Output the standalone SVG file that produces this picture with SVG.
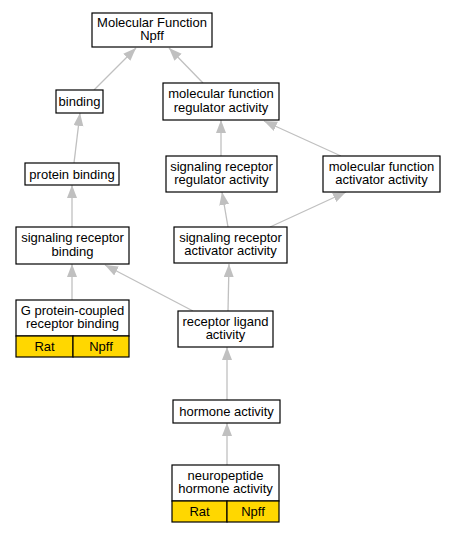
<svg xmlns="http://www.w3.org/2000/svg" width="455" height="533" viewBox="0 0 455 533">
<style>
.n{fill:#fff;stroke:#000;stroke-width:1.2}
.g{fill:#ffd700;stroke:#000;stroke-width:1.2}
text{font-family:"Liberation Sans",Arial,sans-serif;font-size:13px;text-anchor:middle;fill:#000}
.e line{stroke:#c0c0c0;stroke-width:1.3;marker-end:url(#a)}
</style>
<defs>
<marker id="a" markerUnits="userSpaceOnUse" markerWidth="14" markerHeight="11" refX="13" refY="5" orient="auto">
<path d="M0,0 L13,5 L0,10 z" fill="#c0c0c0"/>
</marker>
</defs>
<rect width="455" height="533" fill="#fff"/>
<g class="e" id="connectors">
<line x1="94" y1="90" x2="136" y2="48"/>
<line x1="203" y1="83" x2="169" y2="48"/>
<line x1="74" y1="163" x2="80" y2="113"/>
<line x1="221" y1="156" x2="221" y2="120"/>
<line x1="341" y1="156" x2="264" y2="121"/>
<line x1="72" y1="227" x2="72" y2="185"/>
<line x1="228" y1="227" x2="222" y2="192"/>
<line x1="270" y1="227" x2="346" y2="192"/>
<line x1="72" y1="300" x2="72" y2="264"/>
<line x1="193" y1="311" x2="105" y2="265"/>
<line x1="228" y1="311" x2="229" y2="264"/>
<line x1="227" y1="400" x2="227" y2="347"/>
<line x1="227" y1="465" x2="227" y2="423"/>
</g>
<g id="mf">
<rect class="n" x="92" y="13" width="120" height="34"/>
<text x="152" y="26.5">Molecular Function</text>
<text x="152" y="40">Npff</text>
</g>
<g id="binding">
<rect class="n" x="56" y="90" width="47" height="23"/>
<text x="79.5" y="106">binding</text>
</g>
<g id="mfra">
<rect class="n" x="163" y="83" width="116" height="37"/>
<text x="221" y="98">molecular function</text>
<text x="221" y="111.5">regulator activity</text>
</g>
<g id="pb">
<rect class="n" x="25" y="163" width="94" height="22"/>
<text x="72" y="178.5">protein binding</text>
</g>
<g id="srra">
<rect class="n" x="166" y="156" width="111" height="36"/>
<text x="221.5" y="170.5">signaling receptor</text>
<text x="221.5" y="184">regulator activity</text>
</g>
<g id="mfaa">
<rect class="n" x="323" y="156" width="117" height="36"/>
<text x="381.5" y="170.5">molecular function</text>
<text x="381.5" y="184">activator activity</text>
</g>
<g id="srb">
<rect class="n" x="16" y="227" width="113" height="37"/>
<text x="72.5" y="242">signaling receptor</text>
<text x="72.5" y="255.5">binding</text>
</g>
<g id="sraa">
<rect class="n" x="174" y="227" width="113" height="36"/>
<text x="230.5" y="241.5">signaling receptor</text>
<text x="230.5" y="255">activator activity</text>
</g>
<g id="gpcr">
<rect class="n" x="16" y="300" width="113" height="36"/>
<text x="72.5" y="314.5">G protein-coupled</text>
<text x="72.5" y="328">receptor binding</text>
<rect class="g" x="16" y="336" width="57" height="21"/>
<rect class="g" x="73" y="336" width="56" height="21"/>
<text x="44.5" y="351">Rat</text>
<text x="101" y="351">Npff</text>
</g>
<g id="rla">
<rect class="n" x="178" y="311" width="95" height="36"/>
<text x="225.5" y="325.5">receptor ligand</text>
<text x="225.5" y="339">activity</text>
</g>
<g id="ha">
<rect class="n" x="173" y="400" width="107" height="23"/>
<text x="226.5" y="416">hormone activity</text>
</g>
<g id="nha">
<rect class="n" x="172" y="465" width="107" height="36"/>
<text x="225.5" y="479.5">neuropeptide</text>
<text x="225.5" y="493">hormone activity</text>
<rect class="g" x="172" y="501" width="55" height="21"/>
<rect class="g" x="227" y="501" width="52" height="21"/>
<text x="199.5" y="516">Rat</text>
<text x="253" y="516">Npff</text>
</g>
</svg>
